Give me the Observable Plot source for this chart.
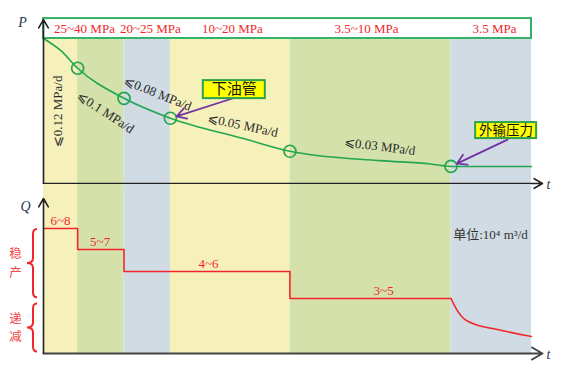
<!DOCTYPE html>
<html><head><meta charset="utf-8">
<script src="https://cdn.jsdelivr.net/npm/d3@7"></script>
<script src="https://cdn.jsdelivr.net/npm/@observablehq/plot@0.6"></script>
<style>body{margin:0;background:#fff} #chart svg{display:block}</style>
</head><body><div id="chart"></div>
<script>
// ---- data ----
const phaseEdges = [0, 7, 16.5, 26, 50.5, 83.5, 100];
const phaseColors = ["#f6f0ba", "#d4e1ab", "#d0dbe4", "#f6f0ba", "#d4e1ab", "#d0dbe4"];
const headerLabels = ["25~40 MPa", "20~25 MPa", "10~20 MPa", "3.5~10 MPa", "3.5 MPa"];
const headerT = [8.4, 21.9, 38.7, 66.2, 92.4];
const pressureT = [0, 3.5, 7, 16.5, 26, 41, 50.5, 69, 79.3, 83.5, 100];
const pressureP = [40, 36.7, 31.8, 23.5, 18.0, 12.4, 8.9, 6.3, 5.4, 4.7, 4.7];
const nodeT = [7, 16.5, 26, 50.5, 83.5];
const nodeP = [31.8, 23.5, 18.0, 8.9, 4.7];
const rateLabels = ["⩽0.12 MPa/d", "⩽0.1 MPa/d", "⩽0.08 MPa/d", "⩽0.05 MPa/d", "⩽0.03 MPa/d"];
const rateT = [2.97, 12.7, 23.4, 40.8, 68.9];
const rateP = [19.9, 19.6, 24.8, 16.0, 10.2];
const rateAngle = [-90, 33, 22, 12, 7];
const calloutText = ["下油管", "外输压力"];
const calloutT = [39.1, 94.8];
const calloutP = [25.9, 14.6];
const calloutFromT = [38.7, 95.1];
const calloutFromP = [23.45, 12.1];
const calloutNode = [2, 4];
const stepT = [0, 7, 16.5, 50.5, 83.5];
const stepQ = [8.06, 6.71, 5.29, 3.55, 3.55];
const stepLabels = ["6~8", "5~7", "4~6", "3~5"];
const stepLabelT = [3.5, 11.6, 33.8, 69.7];
const declineT = [83.5, 84.8, 86.1, 87.5, 93.0, 100];
const declineQ = [3.55, 2.77, 2.26, 2.0, 1.55, 1.10];
const stageLabels = ["稳产", "递减"];
const stageTop = [8.0, 3.2];
const stageBottom = [3.6, 0.1];
const unitLabel = "单位:10⁴ m³/d";
const unitT = 91.6, unitQ = 7.65;

// ---- styles ----
const GREEN = "#22a651", BOXGREEN = "#34b36a", RED = "#f2262a", PINK = "#f04a4a", PURPLE = "#7233a3", AXIS = "#222";
const SERIF = "'Liberation Serif', 'Times New Roman', serif";
const CJK = "'Noto Sans CJK SC', sans-serif";
const boxSize = [[62, 18], [61, 16]];
const boxFont = [15, 13.5];

// ---- tables ----
const bands = phaseColors.map((c, i) => ({t1: phaseEdges[i], t2: phaseEdges[i + 1], color: c}));
const tMin = phaseEdges[0], tMax = phaseEdges[phaseEdges.length - 1];
const pressure = pressureT.map((t, i) => ({t, p: pressureP[i]}));
const nodes = nodeT.map((t, i) => ({t, p: nodeP[i]}));
const pTop = d3.max(pressureP);
const headerTopP = 45.5, tArrow = 102.25, pArrow = 45.2, qArrow = 10;
const headers = headerLabels.map((s, i) => ({s, t: headerT[i], p: (pTop + headerTopP) / 2}));
const rates = rateLabels.map((s, i) => ({s, t: rateT[i], p: rateP[i], a: rateAngle[i]}));
const callouts = calloutText.map((s, i) => ({s, i, t: calloutT[i], p: calloutP[i],
  t1: calloutFromT[i], p1: calloutFromP[i], t2: nodeT[calloutNode[i]], p2: nodeP[calloutNode[i]]}));
const steps = stepT.map((t, i) => ({t, q: stepQ[i]}));
const stepText = stepLabels.map((s, i) => ({s, t: stepLabelT[i], q: stepQ[i]}));
const decline = declineT.map((t, i) => ({t, q: declineQ[i]}));
const stages = stageLabels.map((s, i) => ({s, q1: stageTop[i], q2: stageBottom[i]}));

function calloutBoxes(index, scales) {
  const g = d3.create("svg:g");
  callouts.forEach((c, i) => {
    const cx = scales.x(c.t), cy = scales.y(c.p), [w, h] = boxSize[i];
    g.append("rect").attr("x", cx - w / 2).attr("y", cy - h / 2).attr("width", w).attr("height", h)
      .attr("fill", "#ffff00").attr("stroke", "#2da24a").attr("stroke-width", 2);
  });
  return g.node();
}

function braces(index, scales) {
  const g = d3.create("svg:g").attr("fill", "none").attr("stroke", RED).attr("stroke-width", 2);
  const x0 = scales.x(tMin), xr = x0 - 6, xm = x0 - 10, xl = x0 - 16, r = 5;
  stages.forEach(s => {
    const y1 = scales.y(s.q1), y2 = scales.y(s.q2), ym = (y1 + y2) / 2;
    g.append("path").attr("d",
      `M${xr},${y1} Q${xm},${y1} ${xm},${y1 + r} L${xm},${ym - r} Q${xm},${ym} ${xl},${ym} ` +
      `Q${xm},${ym} ${xm},${ym + r} L${xm},${y2 - r} Q${xm},${y2} ${xr},${y2}`);
  });
  return g.node();
}

const common = {width: 566, marginLeft: 43, marginRight: 35, color: {type: "identity"},
  x: {domain: [tMin, tMax], axis: null}, style: {background: "transparent", overflow: "visible"}};

const upperPlot = Plot.plot({
  ...common, height: 184, marginTop: 38, marginBottom: 0,
  y: {domain: [0, pTop], range: [183, 38], axis: null},
  marks: [
    Plot.rect(bands, {x1: "t1", x2: "t2", fill: "color"}),
    Plot.rect([{}], {x1: tMin, x2: tMax, y1: pTop, y2: headerTopP, fill: "white", stroke: BOXGREEN, strokeWidth: 2}),
    Plot.text(headers, {x: "t", y: "p", text: "s", fill: RED, fontSize: 13, fontFamily: SERIF}),
    Plot.line(pressure, {x: "t", y: "p", curve: "monotone-x", stroke: GREEN, strokeWidth: 1.6}),
    Plot.dot(nodes, {x: "t", y: "p", r: 6, stroke: GREEN, strokeWidth: 1.7, fill: "none"}),
    Plot.arrow([{}], {x1: tMin, y1: 0, x2: tArrow, y2: 0, stroke: AXIS, strokeWidth: 1.6, headLength: 9}),
    Plot.arrow([{}], {x1: tMin, y1: 0, x2: tMin, y2: pArrow, stroke: AXIS, strokeWidth: 1.6, headLength: 9}),
    Plot.text(["P"], {x: tMin, y: pArrow, dx: -21, dy: 3, fontStyle: "italic", fontSize: 14, fontFamily: SERIF, fill: "#2b3550"}),
    Plot.text(["t"], {x: tArrow, y: 0, dx: 4, dy: 1, textAnchor: "start", fontStyle: "italic", fontSize: 14, fontFamily: SERIF, fill: "#2b3550"}),
    Plot.text(rates, {x: "t", y: "p", text: "s", rotate: "a", fill: "#2a2a2a", fontSize: 13, fontFamily: SERIF}),
    Plot.arrow(callouts, {x1: "t1", y1: "p1", x2: "t2", y2: "p2", stroke: PURPLE, strokeWidth: 1.8, headLength: 9, insetEnd: 6.5}),
    calloutBoxes,
    Plot.text(callouts, {x: "t", y: "p", text: "s", fill: "#111", fontSize: d => boxFont[d.i], fontFamily: CJK})
  ]
});

const lowerPlot = Plot.plot({
  ...common, height: 185, marginTop: 0, marginBottom: 16,
  y: {domain: [0, qArrow], range: [169, 14], axis: null},
  marks: [
    Plot.rect(bands, {x1: "t1", x2: "t2", fill: "color"}),
    Plot.line(steps, {x: "t", y: "q", curve: "step-after", stroke: RED, strokeWidth: 1.6}),
    Plot.line(decline, {x: "t", y: "q", curve: "monotone-x", stroke: RED, strokeWidth: 1.6}),
    Plot.text(stepText, {x: "t", y: "q", text: "s", dy: -8, fill: RED, fontSize: 13, fontFamily: SERIF}),
    Plot.arrow([{}], {x1: tMin, y1: 0, x2: tArrow, y2: 0, stroke: "#444", strokeWidth: 2, headLength: 9}),
    Plot.arrow([{}], {x1: tMin, y1: 0, x2: tMin, y2: qArrow, stroke: AXIS, strokeWidth: 1.6, headLength: 9}),
    Plot.text(["Q"], {x: tMin, y: qArrow, dx: -18, dy: 8, fontStyle: "italic", fontSize: 14, fontFamily: SERIF, fill: "#2b3550"}),
    Plot.text(["t"], {x: tArrow, y: 0, dx: 4, dy: 1, textAnchor: "start", fontStyle: "italic", fontSize: 14, fontFamily: SERIF, fill: "#2b3550"}),
    braces,
    Plot.text(stages, {x: tMin, y: d => (d.q1 + d.q2) / 2, text: d => d.s[0], dx: -28, dy: -9.3, fill: PINK, fontSize: 12.5, fontFamily: CJK}),
    Plot.text(stages, {x: tMin, y: d => (d.q1 + d.q2) / 2, text: d => d.s[1], dx: -28, dy: 9.3, fill: PINK, fontSize: 12.5, fontFamily: CJK}),
    Plot.text([unitLabel], {x: unitT, y: unitQ, fill: "#333", fontSize: 13, fontFamily: "'Liberation Serif', 'Noto Sans CJK SC', serif"})
  ]
});

document.getElementById("chart").append(upperPlot, lowerPlot);
</script>
</body></html>
